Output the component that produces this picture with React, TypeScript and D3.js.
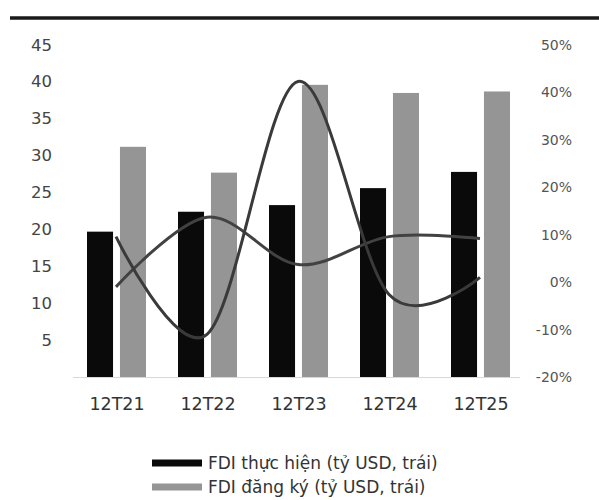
import React from "react";
import * as d3 from "d3";

const categories = ["12T21", "12T22", "12T23", "12T24", "12T25"];
const fdiActual = [19.7, 22.4, 23.3, 25.6, 27.8];
const fdiRegistered = [31.2, 27.7, 39.6, 38.5, 38.7];
const growthA = [9.6, -11.0, 42.3, -2.6, 1.0];
const growthB = [-1.0, 13.7, 3.7, 9.6, 9.2];
const leftTicks = [5, 10, 15, 20, 25, 30, 35, 40, 45];
const rightTicks = [-20, -10, 0, 10, 20, 30, 40, 50];
const legendItems = [
  { label: "FDI thực hiện (tỷ USD, trái)", color: "#0a0a0a" },
  { label: "FDI đăng ký (tỷ USD, trái)", color: "#959595" },
];

const W = 599;
const H = 500;
const FONT = "'DejaVu Sans', sans-serif";

export default function App() {
  const x0 = d3.scaleBand<string>().domain(categories).range([70.5, 525.5]).padding(0);
  const x1 = d3
    .scaleBand<string>()
    .domain(["actual", "registered"])
    .range([16.5, 75.5])
    .paddingInner(0.21);
  const yL = d3.scaleLinear().domain([0, 45]).range([377, 45]);
  const yR = d3.scaleLinear().domain([-20, 50]).range([377, 45]);

  const cx = (c: string) => (x0(c) as number) + x0.bandwidth() / 2;
  const line = d3
    .line<number>()
    .x((_, i) => cx(categories[i]))
    .y((d) => yR(d))
    .curve(d3.curveCardinal.tension(0));

  return (
    <svg
      width={W}
      height={H}
      style={{ position: "absolute", left: 0, top: 0, background: "#fff" }}
      fontFamily={FONT}
    >
      <line x1={10} x2={599} y1={18} y2={18} stroke="#1a1a1a" strokeWidth={3.5} />

      {/* left axis labels */}
      {leftTicks.map((t) => (
        <text
          key={"l" + t}
          x={52}
          y={yL(t)}
          textAnchor="end"
          dominantBaseline="central"
          fontSize={16.5}
          fill="#444"
        >
          {t}
        </text>
      ))}

      {/* right axis labels */}
      {rightTicks.map((t) => (
        <text
          key={"r" + t}
          x={572}
          y={yR(t)}
          textAnchor="end"
          dominantBaseline="central"
          fontSize={14}
          fill="#555"
        >
          {t + "%"}
        </text>
      ))}

      {/* baseline */}
      <line x1={73} x2={520} y1={377.5} y2={377.5} stroke="#d8d8d8" strokeWidth={1} />

      {/* bars */}
      {categories.map((c, i) => (
        <g key={c} transform={`translate(${x0(c)},0)`}>
          <rect
            x={x1("actual")}
            y={yL(fdiActual[i])}
            width={x1.bandwidth()}
            height={yL(0) - yL(fdiActual[i])}
            fill="#0a0a0a"
          />
          <rect
            x={x1("registered")}
            y={yL(fdiRegistered[i])}
            width={x1.bandwidth()}
            height={yL(0) - yL(fdiRegistered[i])}
            fill="#959595"
          />
        </g>
      ))}

      {/* lines */}
      <path d={line(growthB) || ""} fill="none" stroke="#424242" strokeWidth={3} />
      <path d={line(growthA) || ""} fill="none" stroke="#3a3a3a" strokeWidth={3} />

      {/* x labels */}
      {categories.map((c) => (
        <text
          key={"x" + c}
          x={cx(c) + 1}
          y={404}
          textAnchor="middle"
          dominantBaseline="central"
          fontSize={17.5}
          fill="#333"
        >
          {c}
        </text>
      ))}

      {/* legend */}
      {legendItems.map((it, i) => (
        <g key={it.label} transform={`translate(0,${463 + i * 24})`}>
          <rect x={152} y={-3.5} width={50} height={7} fill={it.color} />
          <text x={208} y={0} dominantBaseline="central" fontSize={17} fill="#333">
            {it.label}
          </text>
        </g>
      ))}
    </svg>
  );
}
